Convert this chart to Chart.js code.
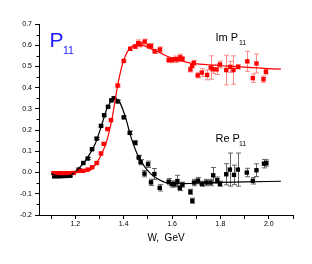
<!DOCTYPE html>
<html><head><meta charset="utf-8">
<script src="https://cdn.jsdelivr.net/npm/chart.js@4/dist/chart.umd.min.js"></script>
<style>html,body{margin:0;padding:0;background:#fff}canvas{display:block}</style>
</head><body>
<canvas id="c" width="312" height="264"></canvas>
<script>
// ---- data ----
const xTickValues = [1.1,1.2,1.3,1.4,1.5,1.6,1.7,1.8,1.9,2.0,2.1];
const yTickValues = [-0.2,-0.1,0.0,0.1,0.2,0.3,0.4,0.5,0.6,0.7];
const yMinorTicks = [-0.15,-0.05,0.05,0.15,0.25,0.35,0.45,0.55,0.65];

const reW = [1.113,1.130,1.146,1.163,1.179,1.214,1.233,1.251,1.269,1.288,1.306,1.319,1.335,1.349,1.359,1.375,1.400,1.425,1.448,1.462,1.470,1.486,1.501,1.513,1.527,1.549,1.586,1.599,1.610,1.622,1.632,1.643,1.676,1.684,1.691,1.707,1.723,1.742,1.759,1.770,1.787,1.798,1.824,1.839,1.856,1.872,1.909,1.934,1.949,1.980,1.990];
const reV = [-0.018,-0.018,-0.017,-0.016,-0.015,0.014,0.045,0.066,0.11,0.16,0.22,0.27,0.31,0.34,0.35,0.335,0.26,0.187,0.14,0.071,0.049,-0.005,0.039,-0.046,-0.007,-0.072,-0.043,-0.054,-0.055,-0.04,-0.073,-0.057,-0.091,-0.133,-0.047,-0.038,-0.053,-0.047,-0.047,-0.013,-0.036,-0.053,-0.008,0.014,-0.011,0.014,0.0,-0.039,0.011,0.042,0.045];
const reErr = [0.004,0.004,0.004,0.004,0.004,0.005,0.005,0.005,0.005,0.005,0.005,0.005,0.005,0.005,0.005,0.005,0.006,0.008,0.01,0.01,0.012,0.015,0.015,0.015,0.026,0.015,0.015,0.015,0.012,0.027,0.012,0.012,0.012,0.012,0.015,0.015,0.012,0.015,0.015,0.037,0.015,0.012,0.05,0.078,0.046,0.078,0.02,0.015,0.03,0.02,0.015];

const imW = [1.110,1.127,1.143,1.160,1.176,1.193,1.214,1.233,1.251,1.269,1.288,1.306,1.317,1.333,1.347,1.375,1.400,1.427,1.448,1.460,1.469,1.487,1.504,1.513,1.528,1.550,1.586,1.599,1.612,1.622,1.634,1.643,1.676,1.683,1.690,1.706,1.723,1.745,1.760,1.768,1.784,1.798,1.824,1.841,1.854,1.873,1.911,1.934,1.949,1.978,1.988];
const imV = [-0.003,-0.003,-0.003,-0.003,-0.003,-0.002,0.008,0.008,0.014,0.025,0.045,0.09,0.135,0.205,0.247,0.41,0.526,0.583,0.594,0.61,0.604,0.617,0.596,0.596,0.571,0.58,0.53,0.53,0.534,0.533,0.543,0.535,0.486,0.503,0.517,0.458,0.471,0.46,0.495,0.487,0.486,0.509,0.483,0.498,0.483,0.498,0.524,0.445,0.514,0.44,0.475];
const imErr = [0.003,0.003,0.003,0.003,0.003,0.003,0.004,0.004,0.004,0.004,0.005,0.005,0.005,0.005,0.005,0.006,0.006,0.008,0.01,0.015,0.012,0.012,0.012,0.012,0.01,0.012,0.012,0.012,0.015,0.012,0.015,0.012,0.012,0.01,0.012,0.012,0.018,0.023,0.055,0.02,0.024,0.016,0.07,0.026,0.067,0.01,0.047,0.02,0.045,0.015,0.011];

const reFitW = [1.10,1.138,1.179,1.207,1.248,1.283,1.311,1.331,1.352,1.366,1.386,1.411,1.428,1.455,1.483,1.511,1.538,1.566,1.593,1.648,1.759,1.90,2.05];
const reFitV = [-0.005,-0.018,-0.013,0.011,0.066,0.137,0.231,0.302,0.341,0.349,0.326,0.247,0.175,0.09,0.034,-0.005,-0.028,-0.044,-0.052,-0.052,-0.047,-0.044,-0.041];

const imFitW = [1.105,1.15,1.2,1.24,1.27,1.296,1.31,1.331,1.352,1.375,1.398,1.425,1.455,1.476,1.51,1.55,1.58,1.63,1.673,1.75,1.85,1.95,2.05];
const imFitV = [0.0,0.001,0.003,0.006,0.018,0.06,0.09,0.152,0.255,0.41,0.522,0.585,0.6,0.6,0.585,0.565,0.548,0.53,0.517,0.508,0.5,0.493,0.487];

const pts = (xs, ys) => xs.map((x, i) => ({x: x, y: ys[i]}));

const FONT = "'Liberation Sans', Arial, sans-serif";

const deco = {
  id: 'deco',
  beforeDatasetsDraw(chart) {
    const ctx = chart.ctx, xs = chart.scales.x, ys = chart.scales.y;
    chart.data.datasets.forEach(ds => {
      if (!ds.errs) return;
      ctx.save();
      ctx.strokeStyle = ds.errColor;
      ctx.lineWidth = 1;
      ds.data.forEach((p, i) => {
        const e = ds.errs[i];
        const px = Math.round(xs.getPixelForValue(p.x)) + 0.5;
        const y1 = ys.getPixelForValue(p.y - e), y2 = ys.getPixelForValue(p.y + e);
        ctx.beginPath();
        ctx.moveTo(px, y1); ctx.lineTo(px, y2);
        ctx.moveTo(px - 2.5, y1); ctx.lineTo(px + 2.5, y1);
        ctx.moveTo(px - 2.5, y2); ctx.lineTo(px + 2.5, y2);
        ctx.stroke();
      });
      ctx.restore();
    });
  },
  afterDraw(chart) {
    const ctx = chart.ctx, ys = chart.scales.y, area = chart.chartArea;
    ctx.save();
    ctx.strokeStyle = '#000';
    ctx.lineWidth = 1;
    yMinorTicks.forEach(v => {
      const py = Math.round(ys.getPixelForValue(v)) + 0.5;
      ctx.beginPath();
      ctx.moveTo(area.left - 2.5, py); ctx.lineTo(area.left, py);
      ctx.stroke();
    });
    // labels
    ctx.textBaseline = 'alphabetic';
    ctx.textAlign = 'left';
    ctx.fillStyle = '#1a1aff';
    ctx.font = '21px ' + FONT;
    ctx.fillText('P', 49.5, 47);
    ctx.font = '10.5px ' + FONT;
    ctx.fillText('11', 63, 53.5);
    ctx.fillStyle = '#000';
    ctx.font = '11px ' + FONT;
    ctx.fillText('Im P', 215.5, 40.5);
    ctx.fillText('Re P', 215.5, 141.5);
    ctx.font = '7px ' + FONT;
    ctx.fillText('11', 239, 44.5);
    ctx.fillText('11', 239, 145.5);
    ctx.restore();
  }
};

new Chart(document.getElementById('c'), {
  type: 'scatter',
  data: {
    datasets: [
      { label: 'Im fit', data: pts(imFitW, imFitV), showLine: true, borderColor: '#ff0000', borderWidth: 1.2,
        pointRadius: 0, cubicInterpolationMode: 'monotone', fill: false },
      { label: 'Re fit', data: pts(reFitW, reFitV), showLine: true, borderColor: '#000000', borderWidth: 1.2,
        pointRadius: 0, cubicInterpolationMode: 'monotone', fill: false },
      { label: 'Im P11', data: pts(imW, imV), errs: imErr, errColor: '#ff8a8a', pointStyle: 'rect',
        pointRadius: 3.1, backgroundColor: '#ff0000', borderColor: '#ff0000', borderWidth: 0 },
      { label: 'Re P11', data: pts(reW, reV), errs: reErr, errColor: '#666666', pointStyle: 'rect',
        pointRadius: 3.1, backgroundColor: '#000000', borderColor: '#000000', borderWidth: 0 }
    ]
  },
  options: {
    responsive: false,
    animation: false,
    events: [],
    layout: { padding: { left: 0, top: 24, right: 19, bottom: 20 } },
    plugins: { legend: { display: false }, tooltip: { enabled: false } },
    scales: {
      x: {
        type: 'linear', min: 1.05, max: 2.1,
        afterBuildTicks: s => { s.ticks = xTickValues.map(v => ({value: v})); },
        afterFit: s => { s.height = 29; },
        border: { display: true, color: '#000', width: 1 },
        grid: { display: true, drawOnChartArea: false, drawTicks: true, tickLength: 4, color: '#000' },
        ticks: {
          autoSkip: false, maxRotation: 0, padding: 1, color: '#000',
          font: { family: FONT, size: 7 },
          callback: v => (Math.round(v * 10) % 2 === 0 ? v.toFixed(1) : '')
        },
        title: { display: true, text: 'W,  GeV', color: '#000', font: { family: FONT, size: 10 },
                 padding: { top: 0, bottom: 0 } }
      },
      y: {
        type: 'linear', min: -0.2, max: 0.7,
        afterBuildTicks: s => { s.ticks = yTickValues.map(v => ({value: v})); },
        afterFit: s => { s.width = 39; },
        border: { display: true, color: '#000', width: 1 },
        grid: { display: true, drawOnChartArea: false, drawTicks: true, tickLength: 4, color: '#000' },
        ticks: {
          autoSkip: false, padding: 3, color: '#000',
          font: { family: FONT, size: 7 },
          callback: v => v.toFixed(1)
        }
      }
    }
  },
  plugins: [deco]
});
</script>
</body></html>
